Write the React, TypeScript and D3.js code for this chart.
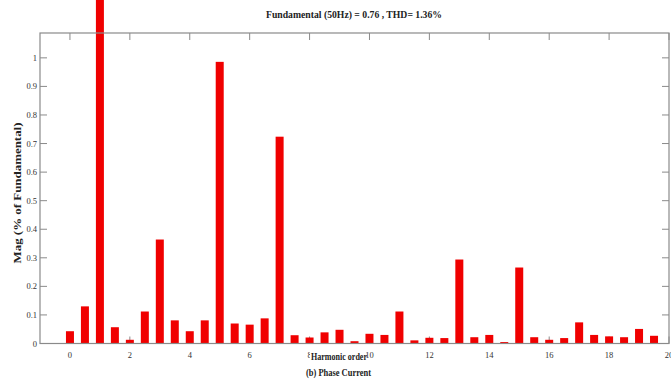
import React, { useEffect, useRef } from "react";
import * as d3 from "d3";

// harmonic order (half-step interharmonics included) and magnitude in % of fundamental
const harmonics = [
  0, 0.5, 1, 1.5, 2, 2.5, 3, 3.5, 4, 4.5, 5, 5.5, 6, 6.5, 7, 7.5, 8, 8.5, 9, 9.5,
  10, 10.5, 11, 11.5, 12, 12.5, 13, 13.5, 14, 14.5, 15, 15.5, 16, 16.5, 17, 17.5, 18, 18.5, 19, 19.5,
];
const magnitudes = [
  0.043, 0.13, 1.25, 0.057, 0.013, 0.112, 0.364, 0.081, 0.043, 0.081, 0.986, 0.07, 0.066, 0.088, 0.724, 0.029, 0.021, 0.039, 0.048, 0.008,
  0.034, 0.03, 0.112, 0.011, 0.02, 0.019, 0.294, 0.022, 0.03, 0.005, 0.266, 0.022, 0.013, 0.019, 0.074, 0.03, 0.025, 0.022, 0.051, 0.027,
];
const xTicks = [0, 2, 4, 6, 8, 10, 12, 14, 16, 18, 20];
const yTicks = [0, 0.1, 0.2, 0.3, 0.4, 0.5, 0.6, 0.7, 0.8, 0.9, 1];

const title = "Fundamental (50Hz) = 0.76 , THD= 1.36%";
const xLabel = "Harmonic order";
const caption = "(b) Phase Current";
const yLabel = "Mag (% of Fundamental)";

const App = () => {
  const svgRef = useRef<SVGSVGElement>(null);
  const width = 671;
  const height = 381;

  useEffect(() => {
    const left = 40;
    const right = 669;
    const top = 33;
    const bottom = 343.5;

    const svg = d3.select(svgRef.current);
    svg.selectAll("*").remove();

    const x = d3.scaleLinear().domain([-1, 20]).range([left, right]);
    const y = d3.scaleLinear().domain([0, 1.087]).range([bottom, top]);

    const font = "'Liberation Serif', 'Times New Roman', serif";
    const tickLen = 7;
    const axisColor = "#8a8a8a";

    // ticks on all four sides, pointing inward (drawn below bars)
    const ticks = svg.append("g").attr("stroke", axisColor).attr("stroke-width", 1);
    xTicks.forEach((t) => {
      ticks.append("line").attr("x1", x(t)).attr("x2", x(t)).attr("y1", bottom).attr("y2", bottom - tickLen);
      ticks.append("line").attr("x1", x(t)).attr("x2", x(t)).attr("y1", top).attr("y2", top + tickLen);
    });
    yTicks.forEach((t) => {
      ticks.append("line").attr("x1", left).attr("x2", left + tickLen).attr("y1", y(t)).attr("y2", y(t));
      ticks.append("line").attr("x1", right).attr("x2", right - tickLen).attr("y1", y(t)).attr("y2", y(t));
    });

    // bars
    const barW = 8;
    svg
      .append("g")
      .selectAll("rect")
      .data(harmonics)
      .join("rect")
      .attr("x", (d) => x(d) - barW / 2)
      .attr("width", barW)
      .attr("y", (d, i) => y(magnitudes[i]))
      .attr("height", (d, i) => bottom - y(magnitudes[i]))
      .attr("fill", "#f00000");

    // frame
    svg
      .append("rect")
      .attr("x", left)
      .attr("y", top)
      .attr("width", right - left)
      .attr("height", bottom - top)
      .attr("fill", "none")
      .attr("stroke", axisColor)
      .attr("stroke-width", 1.2);

    // tick labels
    svg
      .append("g")
      .selectAll("text")
      .data(xTicks)
      .join("text")
      .attr("x", (d) => x(d))
      .attr("y", 358)
      .attr("text-anchor", "middle")
      .attr("font-family", font)
      .attr("font-size", 8.5)
      .attr("fill", "#333")
      .text((d) => d);

    svg
      .append("g")
      .selectAll("text")
      .data(yTicks)
      .join("text")
      .attr("x", 37)
      .attr("y", (d) => y(d) + 3)
      .attr("text-anchor", "end")
      .attr("font-family", font)
      .attr("font-size", 8.5)
      .attr("fill", "#333")
      .text((d) => d);

    // x label sits over the "8" tick label
    svg.append("rect").attr("x", 310).attr("y", 352).attr("width", 56).attr("height", 9).attr("fill", "#fff");
    svg
      .append("text")
      .attr("x", 311)
      .attr("y", 359.5)
      .attr("font-family", font)
      .attr("font-size", 9.5)
      .attr("font-weight", "bold")
      .attr("textLength", 56)
      .attr("lengthAdjust", "spacingAndGlyphs")
      .attr("fill", "#222")
      .text(xLabel);

    svg
      .append("text")
      .attr("x", 306)
      .attr("y", 376)
      .attr("font-family", font)
      .attr("font-size", 9.5)
      .attr("font-weight", "bold")
      .attr("textLength", 65)
      .attr("lengthAdjust", "spacingAndGlyphs")
      .attr("fill", "#222")
      .text(caption);

    svg
      .append("text")
      .attr("x", 354)
      .attr("y", 18)
      .attr("text-anchor", "middle")
      .attr("font-family", font)
      .attr("font-size", 10.5)
      .attr("font-weight", "bold")
      .attr("textLength", 176)
      .attr("lengthAdjust", "spacingAndGlyphs")
      .attr("fill", "#222")
      .text(title);

    svg
      .append("text")
      .attr("transform", "translate(21,193) rotate(-90)")
      .attr("text-anchor", "middle")
      .attr("font-family", font)
      .attr("font-size", 11)
      .attr("font-weight", "bold")
      .attr("textLength", 141)
      .attr("lengthAdjust", "spacingAndGlyphs")
      .attr("fill", "#222")
      .text(yLabel);
  }, []);

  return (
    <svg
      ref={svgRef}
      width={width}
      height={height}
      style={{ position: "absolute", left: 0, top: 0, background: "#fff" }}
    ></svg>
  );
};

export default App;
